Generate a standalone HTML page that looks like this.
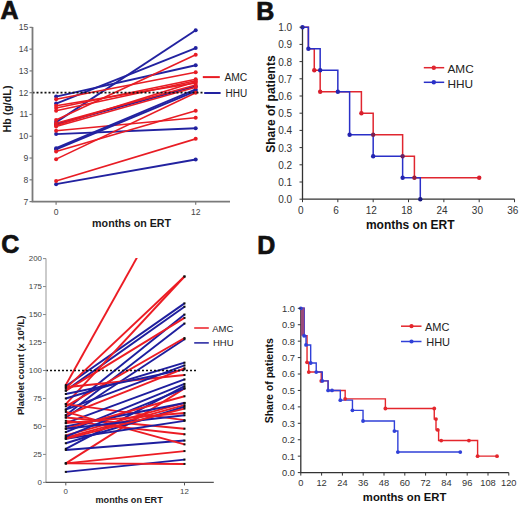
<!DOCTYPE html>
<html><head><meta charset="utf-8"><style>
html,body{margin:0;padding:0;background:#fff;width:520px;height:506px;overflow:hidden}
svg{display:block;font-family:"Liberation Sans",sans-serif}
</style></head><body>
<svg width="520" height="506" viewBox="0 0 520 506">
<rect width="520" height="506" fill="#fff"/>
<text x="0.60" y="18.90" font-size="25" text-anchor="start" font-weight="bold" fill="#111" stroke="#111" stroke-width="0.7">A</text>
<text x="256.20" y="19.90" font-size="25" text-anchor="start" font-weight="bold" fill="#111" stroke="#111" stroke-width="0.7">B</text>
<text x="1.20" y="253.30" font-size="25" text-anchor="start" font-weight="bold" fill="#111" stroke="#111" stroke-width="0.7">C</text>
<text x="257.30" y="253.60" font-size="25" text-anchor="start" font-weight="bold" fill="#111" stroke="#111" stroke-width="0.7">D</text>
<line x1="56.10" y1="184.18" x2="195.70" y2="159.56" stroke="#2222a0" stroke-width="1.9" />
<line x1="56.10" y1="180.91" x2="195.70" y2="138.87" stroke="#e81c24" stroke-width="1.6" />
<line x1="56.10" y1="134.08" x2="195.70" y2="128.20" stroke="#2222a0" stroke-width="1.9" />
<line x1="56.10" y1="159.13" x2="195.70" y2="92.70" stroke="#e81c24" stroke-width="1.6" />
<line x1="56.10" y1="122.10" x2="195.70" y2="30.19" stroke="#2222a0" stroke-width="1.9" />
<line x1="56.10" y1="151.51" x2="195.70" y2="110.78" stroke="#e81c24" stroke-width="1.6" />
<line x1="56.10" y1="103.59" x2="195.70" y2="48.05" stroke="#2222a0" stroke-width="1.9" />
<line x1="56.10" y1="130.81" x2="195.70" y2="117.75" stroke="#e81c24" stroke-width="1.6" />
<line x1="56.10" y1="96.62" x2="195.70" y2="65.26" stroke="#2222a0" stroke-width="1.9" />
<line x1="56.10" y1="119.92" x2="195.70" y2="54.80" stroke="#e81c24" stroke-width="1.6" />
<line x1="56.10" y1="124.28" x2="195.70" y2="86.17" stroke="#2222a0" stroke-width="1.9" />
<line x1="56.10" y1="99.23" x2="195.70" y2="72.23" stroke="#e81c24" stroke-width="1.6" />
<line x1="56.10" y1="149.33" x2="195.70" y2="91.18" stroke="#2222a0" stroke-width="1.9" />
<line x1="56.10" y1="107.95" x2="195.70" y2="79.20" stroke="#e81c24" stroke-width="1.6" />
<line x1="56.10" y1="148.24" x2="195.70" y2="89.43" stroke="#2222a0" stroke-width="1.9" />
<line x1="56.10" y1="110.78" x2="195.70" y2="80.72" stroke="#e81c24" stroke-width="1.6" />
<line x1="56.10" y1="105.77" x2="195.70" y2="82.90" stroke="#e81c24" stroke-width="1.6" />
<line x1="56.10" y1="123.19" x2="195.70" y2="85.08" stroke="#e81c24" stroke-width="1.6" />
<line x1="56.10" y1="126.46" x2="195.70" y2="87.25" stroke="#e81c24" stroke-width="1.6" />
<line x1="56.10" y1="125.37" x2="195.70" y2="81.81" stroke="#e81c24" stroke-width="1.6" />
<circle cx="56.10" cy="184.18" r="2.0" fill="#2222a0"/>
<circle cx="195.70" cy="159.56" r="2.0" fill="#2222a0"/>
<circle cx="56.10" cy="134.08" r="2.0" fill="#2222a0"/>
<circle cx="195.70" cy="128.20" r="2.0" fill="#2222a0"/>
<circle cx="56.10" cy="122.10" r="2.0" fill="#2222a0"/>
<circle cx="195.70" cy="30.19" r="2.0" fill="#2222a0"/>
<circle cx="56.10" cy="103.59" r="2.0" fill="#2222a0"/>
<circle cx="195.70" cy="48.05" r="2.0" fill="#2222a0"/>
<circle cx="56.10" cy="96.62" r="2.0" fill="#2222a0"/>
<circle cx="195.70" cy="65.26" r="2.0" fill="#2222a0"/>
<circle cx="56.10" cy="124.28" r="2.0" fill="#2222a0"/>
<circle cx="195.70" cy="86.17" r="2.0" fill="#2222a0"/>
<circle cx="56.10" cy="149.33" r="2.0" fill="#2222a0"/>
<circle cx="195.70" cy="91.18" r="2.0" fill="#2222a0"/>
<circle cx="56.10" cy="148.24" r="2.0" fill="#2222a0"/>
<circle cx="195.70" cy="89.43" r="2.0" fill="#2222a0"/>
<circle cx="56.10" cy="180.91" r="2.0" fill="#e81c24"/>
<circle cx="195.70" cy="138.87" r="2.0" fill="#e81c24"/>
<circle cx="56.10" cy="159.13" r="2.0" fill="#e81c24"/>
<circle cx="195.70" cy="92.70" r="2.0" fill="#e81c24"/>
<circle cx="56.10" cy="151.51" r="2.0" fill="#e81c24"/>
<circle cx="195.70" cy="110.78" r="2.0" fill="#e81c24"/>
<circle cx="56.10" cy="130.81" r="2.0" fill="#e81c24"/>
<circle cx="195.70" cy="117.75" r="2.0" fill="#e81c24"/>
<circle cx="56.10" cy="119.92" r="2.0" fill="#e81c24"/>
<circle cx="195.70" cy="54.80" r="2.0" fill="#e81c24"/>
<circle cx="56.10" cy="99.23" r="2.0" fill="#e81c24"/>
<circle cx="195.70" cy="72.23" r="2.0" fill="#e81c24"/>
<circle cx="56.10" cy="107.95" r="2.0" fill="#e81c24"/>
<circle cx="195.70" cy="79.20" r="2.0" fill="#e81c24"/>
<circle cx="56.10" cy="110.78" r="2.0" fill="#e81c24"/>
<circle cx="195.70" cy="80.72" r="2.0" fill="#e81c24"/>
<circle cx="56.10" cy="105.77" r="2.0" fill="#e81c24"/>
<circle cx="195.70" cy="82.90" r="2.0" fill="#e81c24"/>
<circle cx="56.10" cy="123.19" r="2.0" fill="#e81c24"/>
<circle cx="195.70" cy="85.08" r="2.0" fill="#e81c24"/>
<circle cx="56.10" cy="126.46" r="2.0" fill="#e81c24"/>
<circle cx="195.70" cy="87.25" r="2.0" fill="#e81c24"/>
<circle cx="56.10" cy="125.37" r="2.0" fill="#e81c24"/>
<circle cx="195.70" cy="81.81" r="2.0" fill="#e81c24"/>
<line x1="32.50" y1="92.70" x2="202.50" y2="92.70" stroke="#111" stroke-width="1.8" stroke-dasharray="2 2"/>
<path d="M32.5,26.9 V201.6 H230" fill="none" stroke="#7a7a7a" stroke-width="1.8"/>
<line x1="29.50" y1="201.60" x2="32.50" y2="201.60" stroke="#7a7a7a" stroke-width="1.2" />
<text x="28.30" y="204.60" font-size="8.6" text-anchor="end" font-weight="normal" fill="#444" >7</text>
<line x1="29.50" y1="179.82" x2="32.50" y2="179.82" stroke="#7a7a7a" stroke-width="1.2" />
<text x="28.30" y="182.82" font-size="8.6" text-anchor="end" font-weight="normal" fill="#444" >8</text>
<line x1="29.50" y1="158.04" x2="32.50" y2="158.04" stroke="#7a7a7a" stroke-width="1.2" />
<text x="28.30" y="161.04" font-size="8.6" text-anchor="end" font-weight="normal" fill="#444" >9</text>
<line x1="29.50" y1="136.26" x2="32.50" y2="136.26" stroke="#7a7a7a" stroke-width="1.2" />
<text x="28.30" y="139.26" font-size="8.6" text-anchor="end" font-weight="normal" fill="#444" >10</text>
<line x1="29.50" y1="114.48" x2="32.50" y2="114.48" stroke="#7a7a7a" stroke-width="1.2" />
<text x="28.30" y="117.48" font-size="8.6" text-anchor="end" font-weight="normal" fill="#444" >11</text>
<line x1="29.50" y1="92.70" x2="32.50" y2="92.70" stroke="#7a7a7a" stroke-width="1.2" />
<text x="28.30" y="95.70" font-size="8.6" text-anchor="end" font-weight="normal" fill="#444" >12</text>
<line x1="29.50" y1="70.92" x2="32.50" y2="70.92" stroke="#7a7a7a" stroke-width="1.2" />
<text x="28.30" y="73.92" font-size="8.6" text-anchor="end" font-weight="normal" fill="#444" >13</text>
<line x1="29.50" y1="49.14" x2="32.50" y2="49.14" stroke="#7a7a7a" stroke-width="1.2" />
<text x="28.30" y="52.14" font-size="8.6" text-anchor="end" font-weight="normal" fill="#444" >14</text>
<line x1="29.50" y1="27.36" x2="32.50" y2="27.36" stroke="#7a7a7a" stroke-width="1.2" />
<text x="28.30" y="30.36" font-size="8.6" text-anchor="end" font-weight="normal" fill="#444" >15</text>
<line x1="56.10" y1="201.60" x2="56.10" y2="204.80" stroke="#7a7a7a" stroke-width="1.2" />
<text x="56.10" y="214.80" font-size="8.6" text-anchor="middle" font-weight="normal" fill="#444" >0</text>
<line x1="195.70" y1="201.60" x2="195.70" y2="204.80" stroke="#7a7a7a" stroke-width="1.2" />
<text x="195.70" y="214.80" font-size="8.6" text-anchor="middle" font-weight="normal" fill="#444" >12</text>
<text x="131.60" y="227.10" font-size="10.7" text-anchor="middle" font-weight="bold" fill="#1a1a1a" >months on ERT</text>
<text transform="translate(10.7,109) rotate(-90)" font-size="10.7" font-weight="bold" fill="#1a1a1a" text-anchor="middle">Hb (g/dL)</text>
<line x1="202.80" y1="77.10" x2="219.80" y2="77.10" stroke="#e81c24" stroke-width="2" />
<line x1="204.20" y1="93.00" x2="220.60" y2="93.00" stroke="#2222a0" stroke-width="2" />
<text x="224.40" y="81.20" font-size="10.3" text-anchor="start" font-weight="normal" fill="#222" >AMC</text>
<text x="225.60" y="96.70" font-size="10.0" text-anchor="start" font-weight="normal" fill="#222" >HHU</text>
<path d="M302.5,27.19999999999999 V199.2 H514.54" fill="none" stroke="#333" stroke-width="1.3"/>
<path d="M302.50,27.20 H308.39 V48.70 H314.28 V70.20 H320.17 V91.70 H361.40 V113.20 H373.18 V134.70 H402.63 V156.20 H414.41 V177.70 H479.20" fill="none" stroke="#e02630" stroke-width="1.5"/>
<path d="M302.50,27.20 H308.39 V48.70 H320.17 V70.20 H337.84 V91.70 H349.62 V134.70 H373.18 V156.20 H402.63 V177.70 H420.30 V199.20 H420.30" fill="none" stroke="#2a30c8" stroke-width="1.5"/>
<circle cx="314.28" cy="70.20" r="2.2" fill="#d81e2c"/>
<circle cx="320.17" cy="91.70" r="2.2" fill="#d81e2c"/>
<circle cx="361.40" cy="113.20" r="2.2" fill="#d81e2c"/>
<circle cx="479.20" cy="177.70" r="2.2" fill="#d81e2c"/>
<circle cx="302.50" cy="27.20" r="2.2" fill="#2424b0"/>
<circle cx="308.39" cy="48.70" r="2.2" fill="#2424b0"/>
<circle cx="320.17" cy="70.20" r="2.2" fill="#2424b0"/>
<circle cx="337.84" cy="91.70" r="2.2" fill="#2424b0"/>
<circle cx="349.62" cy="134.70" r="2.2" fill="#2424b0"/>
<circle cx="420.30" cy="199.20" r="2.2" fill="#1a1a80"/>
<circle cx="373.18" cy="134.70" r="2.2" fill="#7a2050"/>
<circle cx="373.18" cy="156.20" r="2.2" fill="#2424b0"/>
<circle cx="402.63" cy="156.20" r="2.2" fill="#6a2060"/>
<circle cx="402.63" cy="177.70" r="2.2" fill="#2424b0"/>
<circle cx="414.41" cy="177.70" r="2.2" fill="#9a1c3a"/>
<line x1="299.50" y1="199.20" x2="302.50" y2="199.20" stroke="#333" stroke-width="1" />
<text x="292.20" y="203.20" font-size="10" text-anchor="end" font-weight="normal" fill="#333" >0.0</text>
<line x1="299.50" y1="182.00" x2="302.50" y2="182.00" stroke="#333" stroke-width="1" />
<text x="292.20" y="186.00" font-size="10" text-anchor="end" font-weight="normal" fill="#333" >0.1</text>
<line x1="299.50" y1="164.80" x2="302.50" y2="164.80" stroke="#333" stroke-width="1" />
<text x="292.20" y="168.80" font-size="10" text-anchor="end" font-weight="normal" fill="#333" >0.2</text>
<line x1="299.50" y1="147.60" x2="302.50" y2="147.60" stroke="#333" stroke-width="1" />
<text x="292.20" y="151.60" font-size="10" text-anchor="end" font-weight="normal" fill="#333" >0.3</text>
<line x1="299.50" y1="130.40" x2="302.50" y2="130.40" stroke="#333" stroke-width="1" />
<text x="292.20" y="134.40" font-size="10" text-anchor="end" font-weight="normal" fill="#333" >0.4</text>
<line x1="299.50" y1="113.20" x2="302.50" y2="113.20" stroke="#333" stroke-width="1" />
<text x="292.20" y="117.20" font-size="10" text-anchor="end" font-weight="normal" fill="#333" >0.5</text>
<line x1="299.50" y1="96.00" x2="302.50" y2="96.00" stroke="#333" stroke-width="1" />
<text x="292.20" y="100.00" font-size="10" text-anchor="end" font-weight="normal" fill="#333" >0.6</text>
<line x1="299.50" y1="78.80" x2="302.50" y2="78.80" stroke="#333" stroke-width="1" />
<text x="292.20" y="82.80" font-size="10" text-anchor="end" font-weight="normal" fill="#333" >0.7</text>
<line x1="299.50" y1="61.60" x2="302.50" y2="61.60" stroke="#333" stroke-width="1" />
<text x="292.20" y="65.60" font-size="10" text-anchor="end" font-weight="normal" fill="#333" >0.8</text>
<line x1="299.50" y1="44.40" x2="302.50" y2="44.40" stroke="#333" stroke-width="1" />
<text x="292.20" y="48.40" font-size="10" text-anchor="end" font-weight="normal" fill="#333" >0.9</text>
<line x1="299.50" y1="27.20" x2="302.50" y2="27.20" stroke="#333" stroke-width="1" />
<text x="292.20" y="31.20" font-size="10" text-anchor="end" font-weight="normal" fill="#333" >1.0</text>
<line x1="302.50" y1="199.20" x2="302.50" y2="202.20" stroke="#333" stroke-width="1" />
<text x="300.70" y="213.60" font-size="10" text-anchor="middle" font-weight="normal" fill="#333" >0</text>
<line x1="337.84" y1="199.20" x2="337.84" y2="202.20" stroke="#333" stroke-width="1" />
<text x="336.04" y="213.60" font-size="10" text-anchor="middle" font-weight="normal" fill="#333" >6</text>
<line x1="373.18" y1="199.20" x2="373.18" y2="202.20" stroke="#333" stroke-width="1" />
<text x="371.38" y="213.60" font-size="10" text-anchor="middle" font-weight="normal" fill="#333" >12</text>
<line x1="408.52" y1="199.20" x2="408.52" y2="202.20" stroke="#333" stroke-width="1" />
<text x="406.72" y="213.60" font-size="10" text-anchor="middle" font-weight="normal" fill="#333" >18</text>
<line x1="443.86" y1="199.20" x2="443.86" y2="202.20" stroke="#333" stroke-width="1" />
<text x="442.06" y="213.60" font-size="10" text-anchor="middle" font-weight="normal" fill="#333" >24</text>
<line x1="479.20" y1="199.20" x2="479.20" y2="202.20" stroke="#333" stroke-width="1" />
<text x="477.40" y="213.60" font-size="10" text-anchor="middle" font-weight="normal" fill="#333" >30</text>
<line x1="514.54" y1="199.20" x2="514.54" y2="202.20" stroke="#333" stroke-width="1" />
<text x="512.74" y="213.60" font-size="10" text-anchor="middle" font-weight="normal" fill="#333" >36</text>
<text x="410.30" y="228.80" font-size="12" text-anchor="middle" font-weight="bold" fill="#111" >months on ERT</text>
<text transform="translate(275.2,104.1) rotate(-90)" font-size="12" font-weight="bold" fill="#111" text-anchor="middle">Share of patients</text>
<line x1="423.80" y1="67.70" x2="444.20" y2="67.70" stroke="#e02630" stroke-width="1.5" />
<circle cx="433.80" cy="67.70" r="2.2" fill="#e02630"/>
<line x1="423.80" y1="82.30" x2="444.20" y2="82.30" stroke="#2a30c8" stroke-width="1.5" />
<circle cx="433.80" cy="82.30" r="2.2" fill="#2a30c8"/>
<text x="447.50" y="72.90" font-size="11.8" text-anchor="start" font-weight="normal" fill="#222" >AMC</text>
<text x="447.50" y="87.80" font-size="11.8" text-anchor="start" font-weight="normal" fill="#222" >HHU</text>
<clipPath id="cc"><rect x="46" y="258" width="170" height="225"/></clipPath>
<g clip-path="url(#cc)">
<line x1="65.80" y1="386.17" x2="184.50" y2="303.36" stroke="#1e1e9e" stroke-width="1.9" />
<line x1="65.80" y1="385.05" x2="184.50" y2="172.44" stroke="#ec1c24" stroke-width="1.9" />
<line x1="65.80" y1="390.64" x2="184.50" y2="306.72" stroke="#1e1e9e" stroke-width="1.9" />
<line x1="65.80" y1="388.40" x2="184.50" y2="276.50" stroke="#ec1c24" stroke-width="1.9" />
<line x1="65.80" y1="409.66" x2="184.50" y2="314.55" stroke="#1e1e9e" stroke-width="1.9" />
<line x1="65.80" y1="404.07" x2="184.50" y2="276.50" stroke="#ec1c24" stroke-width="1.9" />
<line x1="65.80" y1="415.26" x2="184.50" y2="323.50" stroke="#1e1e9e" stroke-width="1.9" />
<line x1="65.80" y1="390.64" x2="184.50" y2="317.91" stroke="#ec1c24" stroke-width="1.9" />
<line x1="65.80" y1="417.50" x2="184.50" y2="339.17" stroke="#1e1e9e" stroke-width="1.9" />
<line x1="65.80" y1="406.31" x2="184.50" y2="338.05" stroke="#ec1c24" stroke-width="1.9" />
<line x1="65.80" y1="398.47" x2="184.50" y2="362.67" stroke="#1e1e9e" stroke-width="1.9" />
<line x1="65.80" y1="387.28" x2="184.50" y2="374.98" stroke="#ec1c24" stroke-width="1.9" />
<line x1="65.80" y1="409.66" x2="184.50" y2="365.46" stroke="#1e1e9e" stroke-width="1.9" />
<line x1="65.80" y1="463.38" x2="184.50" y2="388.40" stroke="#ec1c24" stroke-width="1.9" />
<line x1="65.80" y1="394.00" x2="184.50" y2="369.38" stroke="#1e1e9e" stroke-width="1.9" />
<line x1="65.80" y1="404.07" x2="184.50" y2="420.18" stroke="#ec1c24" stroke-width="1.9" />
<line x1="65.80" y1="423.09" x2="184.50" y2="379.45" stroke="#1e1e9e" stroke-width="1.9" />
<line x1="65.80" y1="417.50" x2="184.50" y2="428.69" stroke="#ec1c24" stroke-width="1.9" />
<line x1="65.80" y1="448.83" x2="184.50" y2="386.17" stroke="#1e1e9e" stroke-width="1.9" />
<line x1="65.80" y1="435.40" x2="184.50" y2="402.95" stroke="#ec1c24" stroke-width="1.9" />
<line x1="65.80" y1="426.45" x2="184.50" y2="402.95" stroke="#1e1e9e" stroke-width="1.9" />
<line x1="65.80" y1="437.64" x2="184.50" y2="405.19" stroke="#ec1c24" stroke-width="1.9" />
<line x1="65.80" y1="443.23" x2="184.50" y2="406.76" stroke="#1e1e9e" stroke-width="1.9" />
<line x1="65.80" y1="420.85" x2="184.50" y2="434.28" stroke="#ec1c24" stroke-width="1.9" />
<line x1="65.80" y1="449.95" x2="184.50" y2="440.55" stroke="#1e1e9e" stroke-width="1.9" />
<line x1="65.80" y1="411.90" x2="184.50" y2="444.35" stroke="#ec1c24" stroke-width="1.9" />
<line x1="65.80" y1="471.88" x2="184.50" y2="459.57" stroke="#1e1e9e" stroke-width="1.9" />
<line x1="65.80" y1="463.38" x2="184.50" y2="451.07" stroke="#ec1c24" stroke-width="1.9" />
<line x1="65.80" y1="432.04" x2="184.50" y2="383.93" stroke="#1e1e9e" stroke-width="1.9" />
<line x1="65.80" y1="463.38" x2="184.50" y2="463.94" stroke="#ec1c24" stroke-width="1.9" />
<line x1="65.80" y1="436.52" x2="184.50" y2="388.40" stroke="#1e1e9e" stroke-width="1.9" />
<line x1="65.80" y1="415.26" x2="184.50" y2="368.26" stroke="#ec1c24" stroke-width="1.9" />
<line x1="65.80" y1="438.76" x2="184.50" y2="420.85" stroke="#1e1e9e" stroke-width="1.9" />
<line x1="65.80" y1="428.69" x2="184.50" y2="396.24" stroke="#ec1c24" stroke-width="1.9" />
<line x1="65.80" y1="428.69" x2="184.50" y2="415.26" stroke="#1e1e9e" stroke-width="1.9" />
<line x1="65.80" y1="423.09" x2="184.50" y2="413.02" stroke="#ec1c24" stroke-width="1.9" />
<line x1="65.80" y1="438.76" x2="184.50" y2="408.55" stroke="#ec1c24" stroke-width="1.9" />
</g>
<rect x="64.80" y="384.05" width="2" height="2" fill="#111"/>
<rect x="64.80" y="387.40" width="2" height="2" fill="#111"/>
<rect x="183.50" y="275.50" width="2" height="2" fill="#111"/>
<rect x="64.80" y="403.07" width="2" height="2" fill="#111"/>
<rect x="183.50" y="275.50" width="2" height="2" fill="#111"/>
<rect x="64.80" y="389.64" width="2" height="2" fill="#111"/>
<rect x="183.50" y="316.91" width="2" height="2" fill="#111"/>
<rect x="64.80" y="405.31" width="2" height="2" fill="#111"/>
<rect x="183.50" y="337.05" width="2" height="2" fill="#111"/>
<rect x="64.80" y="386.28" width="2" height="2" fill="#111"/>
<rect x="183.50" y="373.98" width="2" height="2" fill="#111"/>
<rect x="64.80" y="462.38" width="2" height="2" fill="#111"/>
<rect x="183.50" y="387.40" width="2" height="2" fill="#111"/>
<rect x="64.80" y="403.07" width="2" height="2" fill="#111"/>
<rect x="183.50" y="419.18" width="2" height="2" fill="#111"/>
<rect x="64.80" y="416.50" width="2" height="2" fill="#111"/>
<rect x="183.50" y="427.69" width="2" height="2" fill="#111"/>
<rect x="64.80" y="434.40" width="2" height="2" fill="#111"/>
<rect x="183.50" y="401.95" width="2" height="2" fill="#111"/>
<rect x="64.80" y="436.64" width="2" height="2" fill="#111"/>
<rect x="183.50" y="404.19" width="2" height="2" fill="#111"/>
<rect x="64.80" y="419.85" width="2" height="2" fill="#111"/>
<rect x="183.50" y="433.28" width="2" height="2" fill="#111"/>
<rect x="64.80" y="410.90" width="2" height="2" fill="#111"/>
<rect x="183.50" y="443.35" width="2" height="2" fill="#111"/>
<rect x="64.80" y="462.38" width="2" height="2" fill="#111"/>
<rect x="183.50" y="450.07" width="2" height="2" fill="#111"/>
<rect x="64.80" y="462.38" width="2" height="2" fill="#111"/>
<rect x="183.50" y="462.94" width="2" height="2" fill="#111"/>
<rect x="64.80" y="414.26" width="2" height="2" fill="#111"/>
<rect x="183.50" y="367.26" width="2" height="2" fill="#111"/>
<rect x="64.80" y="427.69" width="2" height="2" fill="#111"/>
<rect x="183.50" y="395.24" width="2" height="2" fill="#111"/>
<rect x="64.80" y="422.09" width="2" height="2" fill="#111"/>
<rect x="183.50" y="412.02" width="2" height="2" fill="#111"/>
<rect x="64.80" y="437.76" width="2" height="2" fill="#111"/>
<rect x="183.50" y="407.55" width="2" height="2" fill="#111"/>
<rect x="64.80" y="385.17" width="2" height="2" fill="#111"/>
<rect x="183.50" y="302.36" width="2" height="2" fill="#111"/>
<rect x="64.80" y="389.64" width="2" height="2" fill="#111"/>
<rect x="183.50" y="305.72" width="2" height="2" fill="#111"/>
<rect x="64.80" y="408.66" width="2" height="2" fill="#111"/>
<rect x="183.50" y="313.55" width="2" height="2" fill="#111"/>
<rect x="64.80" y="414.26" width="2" height="2" fill="#111"/>
<rect x="183.50" y="322.50" width="2" height="2" fill="#111"/>
<rect x="64.80" y="416.50" width="2" height="2" fill="#111"/>
<rect x="183.50" y="338.17" width="2" height="2" fill="#111"/>
<rect x="64.80" y="397.47" width="2" height="2" fill="#111"/>
<rect x="183.50" y="361.67" width="2" height="2" fill="#111"/>
<rect x="64.80" y="408.66" width="2" height="2" fill="#111"/>
<rect x="183.50" y="364.46" width="2" height="2" fill="#111"/>
<rect x="64.80" y="393.00" width="2" height="2" fill="#111"/>
<rect x="183.50" y="368.38" width="2" height="2" fill="#111"/>
<rect x="64.80" y="422.09" width="2" height="2" fill="#111"/>
<rect x="183.50" y="378.45" width="2" height="2" fill="#111"/>
<rect x="64.80" y="447.83" width="2" height="2" fill="#111"/>
<rect x="183.50" y="385.17" width="2" height="2" fill="#111"/>
<rect x="64.80" y="425.45" width="2" height="2" fill="#111"/>
<rect x="183.50" y="401.95" width="2" height="2" fill="#111"/>
<rect x="64.80" y="442.23" width="2" height="2" fill="#111"/>
<rect x="183.50" y="405.76" width="2" height="2" fill="#111"/>
<rect x="64.80" y="448.95" width="2" height="2" fill="#111"/>
<rect x="183.50" y="439.55" width="2" height="2" fill="#111"/>
<rect x="64.80" y="470.88" width="2" height="2" fill="#111"/>
<rect x="183.50" y="458.57" width="2" height="2" fill="#111"/>
<rect x="64.80" y="431.04" width="2" height="2" fill="#111"/>
<rect x="183.50" y="382.93" width="2" height="2" fill="#111"/>
<rect x="64.80" y="435.52" width="2" height="2" fill="#111"/>
<rect x="183.50" y="387.40" width="2" height="2" fill="#111"/>
<rect x="64.80" y="437.76" width="2" height="2" fill="#111"/>
<rect x="183.50" y="419.85" width="2" height="2" fill="#111"/>
<rect x="64.80" y="427.69" width="2" height="2" fill="#111"/>
<rect x="183.50" y="414.26" width="2" height="2" fill="#111"/>
<line x1="46.00" y1="370.50" x2="197.80" y2="370.50" stroke="#111" stroke-width="1.5" stroke-dasharray="2 2"/>
<path d="M46.0,258.59999999999997 V482.4" fill="none" stroke="#a8a8a8" stroke-width="1.2"/>
<path d="M45.4,482.4 H213.8" fill="none" stroke="#555" stroke-width="1.2"/>
<line x1="43.00" y1="482.40" x2="46.00" y2="482.40" stroke="#8a8a8a" stroke-width="1" />
<text x="42.00" y="485.20" font-size="7.9" text-anchor="end" font-weight="normal" fill="#444" >0</text>
<line x1="43.00" y1="454.42" x2="46.00" y2="454.42" stroke="#8a8a8a" stroke-width="1" />
<text x="42.00" y="457.22" font-size="7.9" text-anchor="end" font-weight="normal" fill="#444" >25</text>
<line x1="43.00" y1="426.45" x2="46.00" y2="426.45" stroke="#8a8a8a" stroke-width="1" />
<text x="42.00" y="429.25" font-size="7.9" text-anchor="end" font-weight="normal" fill="#444" >50</text>
<line x1="43.00" y1="398.47" x2="46.00" y2="398.47" stroke="#8a8a8a" stroke-width="1" />
<text x="42.00" y="401.27" font-size="7.9" text-anchor="end" font-weight="normal" fill="#444" >75</text>
<line x1="43.00" y1="370.50" x2="46.00" y2="370.50" stroke="#8a8a8a" stroke-width="1" />
<text x="42.00" y="373.30" font-size="7.9" text-anchor="end" font-weight="normal" fill="#444" >100</text>
<line x1="43.00" y1="342.52" x2="46.00" y2="342.52" stroke="#8a8a8a" stroke-width="1" />
<text x="42.00" y="345.32" font-size="7.9" text-anchor="end" font-weight="normal" fill="#444" >125</text>
<line x1="43.00" y1="314.55" x2="46.00" y2="314.55" stroke="#8a8a8a" stroke-width="1" />
<text x="42.00" y="317.35" font-size="7.9" text-anchor="end" font-weight="normal" fill="#444" >150</text>
<line x1="43.00" y1="286.57" x2="46.00" y2="286.57" stroke="#8a8a8a" stroke-width="1" />
<text x="42.00" y="289.38" font-size="7.9" text-anchor="end" font-weight="normal" fill="#444" >175</text>
<line x1="43.00" y1="258.60" x2="46.00" y2="258.60" stroke="#8a8a8a" stroke-width="1" />
<text x="42.00" y="261.40" font-size="7.9" text-anchor="end" font-weight="normal" fill="#444" >200</text>
<line x1="65.80" y1="482.40" x2="65.80" y2="485.40" stroke="#555" stroke-width="1" />
<text x="65.80" y="493.80" font-size="7.9" text-anchor="middle" font-weight="normal" fill="#444" >0</text>
<line x1="184.50" y1="482.40" x2="184.50" y2="485.40" stroke="#555" stroke-width="1" />
<text x="184.50" y="493.80" font-size="7.9" text-anchor="middle" font-weight="normal" fill="#444" >12</text>
<text x="129.10" y="503.00" font-size="9.1" text-anchor="middle" font-weight="bold" fill="#1a1a1a" >months on ERT</text>
<text transform="translate(24,365.4) rotate(-90)" font-size="9.3" font-weight="bold" fill="#1a1a1a" text-anchor="middle">Platelet count (x 10<tspan dy="-3.5" font-size="6">9</tspan><tspan dy="3.5">/L)</tspan></text>
<line x1="194.20" y1="328.00" x2="208.80" y2="328.00" stroke="#ec1c24" stroke-width="1.5" />
<line x1="194.20" y1="342.90" x2="208.80" y2="342.90" stroke="#1e1e9e" stroke-width="1.5" />
<text x="212.20" y="331.50" font-size="9.5" text-anchor="start" font-weight="normal" fill="#222" >AMC</text>
<text x="213.00" y="346.40" font-size="9.5" text-anchor="start" font-weight="normal" fill="#222" >HHU</text>
<path d="M300.8,308.3 V472.6 H508.79600000000005" fill="none" stroke="#333" stroke-width="1.3"/>
<path d="M300.80,308.30 H304.09 V335.74 H307.04 V362.35 H308.77 V372.05 H321.25 V380.92 H328.10 V390.45 H345.17 V398.83 H385.39 V408.52 H434.26 V419.04 H436.00 V429.88 H438.60 V440.56 H477.60 V456.17 H497.01" fill="none" stroke="#e4262c" stroke-width="1.4"/>
<path d="M300.80,308.30 H304.09 V335.74 H306.00 V344.94 H310.68 V363.01 H316.23 V372.05 H322.29 V380.92 H328.10 V390.45 H340.32 V400.14 H352.45 V410.33 H363.03 V421.01 H394.40 V431.03 H397.86 V452.06 H460.26" fill="none" stroke="#3040d8" stroke-width="1.4"/>
<rect x="300.80" y="308.30" width="3.29" height="27.44" fill="#9a4a7a"/>
<circle cx="307.04" cy="362.35" r="1.9" fill="#e4262c"/>
<circle cx="308.77" cy="372.05" r="1.9" fill="#e4262c"/>
<circle cx="321.25" cy="380.92" r="1.9" fill="#e4262c"/>
<circle cx="345.17" cy="398.83" r="1.9" fill="#e4262c"/>
<circle cx="385.39" cy="408.52" r="1.9" fill="#e4262c"/>
<circle cx="434.26" cy="408.52" r="1.9" fill="#e4262c"/>
<circle cx="436.00" cy="419.04" r="1.9" fill="#e4262c"/>
<circle cx="437.73" cy="429.88" r="1.9" fill="#e4262c"/>
<circle cx="441.20" cy="440.56" r="1.9" fill="#e4262c"/>
<circle cx="468.93" cy="440.56" r="1.9" fill="#e4262c"/>
<circle cx="477.60" cy="456.17" r="1.9" fill="#e4262c"/>
<circle cx="497.01" cy="456.17" r="1.9" fill="#e4262c"/>
<circle cx="300.80" cy="308.30" r="1.9" fill="#3040d8"/>
<circle cx="304.09" cy="335.74" r="1.9" fill="#3040d8"/>
<circle cx="306.00" cy="344.94" r="1.9" fill="#3040d8"/>
<circle cx="310.68" cy="363.01" r="1.9" fill="#3040d8"/>
<circle cx="316.23" cy="372.05" r="1.9" fill="#3040d8"/>
<circle cx="322.29" cy="380.92" r="1.9" fill="#3040d8"/>
<circle cx="328.10" cy="390.45" r="1.9" fill="#3040d8"/>
<circle cx="332.00" cy="390.45" r="1.9" fill="#3040d8"/>
<circle cx="340.32" cy="400.14" r="1.9" fill="#3040d8"/>
<circle cx="352.45" cy="410.33" r="1.9" fill="#3040d8"/>
<circle cx="363.03" cy="421.01" r="1.9" fill="#3040d8"/>
<circle cx="394.40" cy="431.03" r="1.9" fill="#3040d8"/>
<circle cx="397.86" cy="452.06" r="1.9" fill="#3040d8"/>
<circle cx="460.26" cy="452.06" r="1.9" fill="#3040d8"/>
<line x1="297.80" y1="472.60" x2="300.80" y2="472.60" stroke="#333" stroke-width="1" />
<text x="295.00" y="476.00" font-size="9.3" text-anchor="end" font-weight="normal" fill="#333" >0.0</text>
<line x1="297.80" y1="456.17" x2="300.80" y2="456.17" stroke="#333" stroke-width="1" />
<text x="295.00" y="459.57" font-size="9.3" text-anchor="end" font-weight="normal" fill="#333" >0.1</text>
<line x1="297.80" y1="439.74" x2="300.80" y2="439.74" stroke="#333" stroke-width="1" />
<text x="295.00" y="443.14" font-size="9.3" text-anchor="end" font-weight="normal" fill="#333" >0.2</text>
<line x1="297.80" y1="423.31" x2="300.80" y2="423.31" stroke="#333" stroke-width="1" />
<text x="295.00" y="426.71" font-size="9.3" text-anchor="end" font-weight="normal" fill="#333" >0.3</text>
<line x1="297.80" y1="406.88" x2="300.80" y2="406.88" stroke="#333" stroke-width="1" />
<text x="295.00" y="410.28" font-size="9.3" text-anchor="end" font-weight="normal" fill="#333" >0.4</text>
<line x1="297.80" y1="390.45" x2="300.80" y2="390.45" stroke="#333" stroke-width="1" />
<text x="295.00" y="393.85" font-size="9.3" text-anchor="end" font-weight="normal" fill="#333" >0.5</text>
<line x1="297.80" y1="374.02" x2="300.80" y2="374.02" stroke="#333" stroke-width="1" />
<text x="295.00" y="377.42" font-size="9.3" text-anchor="end" font-weight="normal" fill="#333" >0.6</text>
<line x1="297.80" y1="357.59" x2="300.80" y2="357.59" stroke="#333" stroke-width="1" />
<text x="295.00" y="360.99" font-size="9.3" text-anchor="end" font-weight="normal" fill="#333" >0.7</text>
<line x1="297.80" y1="341.16" x2="300.80" y2="341.16" stroke="#333" stroke-width="1" />
<text x="295.00" y="344.56" font-size="9.3" text-anchor="end" font-weight="normal" fill="#333" >0.8</text>
<line x1="297.80" y1="324.73" x2="300.80" y2="324.73" stroke="#333" stroke-width="1" />
<text x="295.00" y="328.13" font-size="9.3" text-anchor="end" font-weight="normal" fill="#333" >0.9</text>
<line x1="297.80" y1="308.30" x2="300.80" y2="308.30" stroke="#333" stroke-width="1" />
<text x="295.00" y="311.70" font-size="9.3" text-anchor="end" font-weight="normal" fill="#333" >1.0</text>
<line x1="300.80" y1="472.60" x2="300.80" y2="475.60" stroke="#333" stroke-width="1" />
<text x="300.80" y="486.20" font-size="9.3" text-anchor="middle" font-weight="normal" fill="#333" >0</text>
<line x1="321.60" y1="472.60" x2="321.60" y2="475.60" stroke="#333" stroke-width="1" />
<text x="321.60" y="486.20" font-size="9.3" text-anchor="middle" font-weight="normal" fill="#333" >12</text>
<line x1="342.40" y1="472.60" x2="342.40" y2="475.60" stroke="#333" stroke-width="1" />
<text x="342.40" y="486.20" font-size="9.3" text-anchor="middle" font-weight="normal" fill="#333" >24</text>
<line x1="363.20" y1="472.60" x2="363.20" y2="475.60" stroke="#333" stroke-width="1" />
<text x="363.20" y="486.20" font-size="9.3" text-anchor="middle" font-weight="normal" fill="#333" >36</text>
<line x1="384.00" y1="472.60" x2="384.00" y2="475.60" stroke="#333" stroke-width="1" />
<text x="384.00" y="486.20" font-size="9.3" text-anchor="middle" font-weight="normal" fill="#333" >48</text>
<line x1="404.80" y1="472.60" x2="404.80" y2="475.60" stroke="#333" stroke-width="1" />
<text x="404.80" y="486.20" font-size="9.3" text-anchor="middle" font-weight="normal" fill="#333" >60</text>
<line x1="425.60" y1="472.60" x2="425.60" y2="475.60" stroke="#333" stroke-width="1" />
<text x="425.60" y="486.20" font-size="9.3" text-anchor="middle" font-weight="normal" fill="#333" >72</text>
<line x1="446.40" y1="472.60" x2="446.40" y2="475.60" stroke="#333" stroke-width="1" />
<text x="446.40" y="486.20" font-size="9.3" text-anchor="middle" font-weight="normal" fill="#333" >84</text>
<line x1="467.20" y1="472.60" x2="467.20" y2="475.60" stroke="#333" stroke-width="1" />
<text x="467.20" y="486.20" font-size="9.3" text-anchor="middle" font-weight="normal" fill="#333" >96</text>
<line x1="488.00" y1="472.60" x2="488.00" y2="475.60" stroke="#333" stroke-width="1" />
<text x="488.00" y="486.20" font-size="9.3" text-anchor="middle" font-weight="normal" fill="#333" >108</text>
<line x1="508.80" y1="472.60" x2="508.80" y2="475.60" stroke="#333" stroke-width="1" />
<text x="508.80" y="486.20" font-size="9.3" text-anchor="middle" font-weight="normal" fill="#333" >120</text>
<text x="404.60" y="501.20" font-size="11.3" text-anchor="middle" font-weight="bold" fill="#111" >months on ERT</text>
<text transform="translate(272.6,380.7) rotate(-90)" font-size="10.5" font-weight="bold" fill="#111" text-anchor="middle">Share of patients</text>
<line x1="401.00" y1="326.20" x2="421.50" y2="326.20" stroke="#e4262c" stroke-width="1.5" />
<circle cx="411.50" cy="326.20" r="2.1" fill="#e4262c"/>
<line x1="401.00" y1="341.50" x2="421.50" y2="341.50" stroke="#3040d8" stroke-width="1.5" />
<circle cx="411.50" cy="341.50" r="2.1" fill="#3040d8"/>
<text x="425.00" y="330.50" font-size="11" text-anchor="start" font-weight="normal" fill="#222" >AMC</text>
<text x="426.20" y="345.70" font-size="11" text-anchor="start" font-weight="normal" fill="#222" >HHU</text>
</svg></body></html>
